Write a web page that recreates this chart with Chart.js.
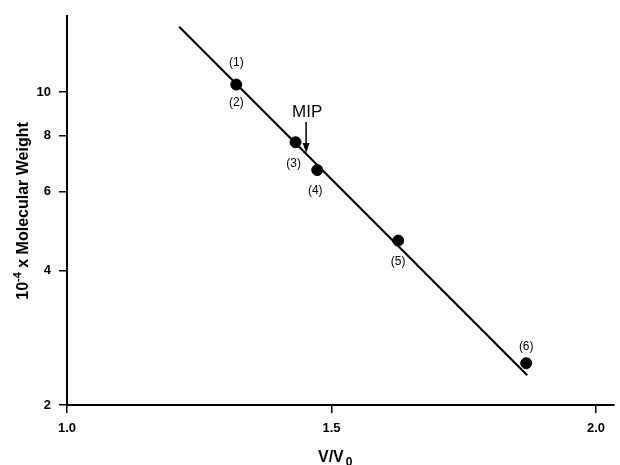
<!DOCTYPE html>
<html><head><meta charset="utf-8">
<script src="https://cdn.jsdelivr.net/npm/chart.js@4.4.1/dist/chart.umd.min.js"></script>
<style>html,body{margin:0;padding:0;background:#fff}#wrap{width:620px;height:465px}</style>
</head><body><div id="wrap"><canvas id="c" width="620" height="465"></canvas></div>
<script>
// ---- data ----
const vRatio    = [1.320, 1.432, 1.473, 1.626, 1.868];   // V/V0 of the standards
const molWeight = [10.4, 7.73, 6.70, 4.66, 2.48];        // 10^-4 x MW
const pointTags = [['(1)', '(2)'], ['(3)'], ['(4)'], ['(5)'], ['(6)']];
const fitLineX  = [1.212, 1.870];
const fitLineY  = [14.0, 2.33];
const mipLabel  = 'MIP';
const mipX      = 1.452;
const xTicks    = [1.0, 1.5, 2.0];
const yTicks    = [2, 4, 6, 8, 10];
const xTitle    = ['V/V', '0'];
const yTitle    = ['10', '-4', ' x Molecular Weight'];

// ---- styling (offsets of the tag labels, in px) ----
const tagOffsets = [[[0, -22], [0, 18]], [[-2, 21]], [[-2, 21]], [[0, 21]], [[0, -17]]];
const FONT = 'Liberation Sans, Arial, Helvetica, sans-serif';

const annot = {
  id: 'annot',
  afterDatasetsDraw(chart) {
    const ctx = chart.ctx;
    const xs = chart.scales.x;
    const pts = chart.getDatasetMeta(0).data;
    ctx.save();
    ctx.fillStyle = '#000';
    ctx.font = '12px ' + FONT;
    ctx.textAlign = 'center';
    ctx.textBaseline = 'middle';
    pts.forEach((p, i) => {
      pointTags[i].forEach((t, j) => {
        const o = tagOffsets[i][j];
        ctx.fillText(t, p.x + o[0], p.y + o[1]);
      });
    });
    // MIP arrow pointing to the fitted line
    const ln = chart.getDatasetMeta(1).data;
    const px = xs.getPixelForValue(mipX);
    const f = (px - ln[0].x) / (ln[1].x - ln[0].x);
    const tipY = ln[0].y + f * (ln[1].y - ln[0].y) - 1;
    ctx.strokeStyle = '#000';
    ctx.lineWidth = 1.5;
    ctx.beginPath();
    ctx.moveTo(px, tipY - 31);
    ctx.lineTo(px, tipY - 8);
    ctx.stroke();
    ctx.beginPath();
    ctx.moveTo(px - 3.5, tipY - 10);
    ctx.lineTo(px + 3.5, tipY - 10);
    ctx.lineTo(px, tipY);
    ctx.closePath();
    ctx.fill();
    ctx.font = '17px ' + FONT;
    ctx.textBaseline = 'alphabetic';
    ctx.fillText(mipLabel, px + 1, tipY - 36);
    ctx.restore();
  },
  afterDraw(chart) {
    const ctx = chart.ctx;
    const a = chart.chartArea;
    ctx.save();
    ctx.fillStyle = '#000';
    // x title
    ctx.textBaseline = 'alphabetic';
    ctx.textAlign = 'left';
    ctx.font = 'bold 16px ' + FONT;
    const xt0 = a.left + 251;
    ctx.fillText(xTitle[0], xt0, 461.5);
    const w0 = ctx.measureText(xTitle[0]).width;
    ctx.font = 'bold 12px ' + FONT;
    ctx.fillText(xTitle[1], xt0 + w0 + 2, 466);
    // y title (rotated)
    ctx.translate(22, 211);
    ctx.rotate(-Math.PI / 2);
    ctx.font = 'bold 16px ' + FONT;
    const wa = ctx.measureText(yTitle[0]).width;
    const wc = ctx.measureText(yTitle[2]).width;
    ctx.font = 'bold 11px ' + FONT;
    const wb = ctx.measureText(yTitle[1]).width;
    let x = -(wa + wb + wc) / 2;
    ctx.font = 'bold 16px ' + FONT;
    ctx.fillText(yTitle[0], x, 6);
    x += wa;
    ctx.font = 'bold 11px ' + FONT;
    ctx.fillText(yTitle[1], x, -1);
    x += wb;
    ctx.font = 'bold 16px ' + FONT;
    ctx.fillText(yTitle[2], x, 6);
    ctx.restore();
  }
};

new Chart(document.getElementById('c'), {
  data: {
    datasets: [
      {
        type: 'scatter',
        data: vRatio.map((v, i) => ({ x: v, y: molWeight[i] })),
        backgroundColor: '#000',
        borderColor: '#000',
        pointRadius: 5.5,
        pointHoverRadius: 5.5
      },
      {
        type: 'line',
        data: fitLineX.map((v, i) => ({ x: v, y: fitLineY[i] })),
        borderColor: '#000',
        borderWidth: 2,
        pointRadius: 0,
        fill: false
      }
    ]
  },
  options: {
    responsive: false,
    animation: false,
    devicePixelRatio: 1,
    layout: { padding: { top: 16, right: 0, left: 0, bottom: 0 } },
    plugins: { legend: { display: false }, tooltip: { enabled: false } },
    scales: {
      x: {
        type: 'linear',
        min: 1.0,
        max: 2.033,
        afterBuildTicks: s => { s.ticks = xTicks.map(v => ({ value: v })); },
        afterFit: s => { s.height = 60; },
        ticks: {
          callback: v => Number(v).toFixed(1),
          color: '#000',
          padding: 8,
          maxRotation: 0,
          font: { family: FONT, size: 13, weight: 'bold' }
        },
        grid: { drawOnChartArea: false, drawTicks: true, tickLength: 8, color: '#000', lineWidth: 1.5 },
        border: { color: '#000', width: 2 }
      },
      y: {
        type: 'logarithmic',
        min: 2,
        max: 14.8,
        afterBuildTicks: s => { s.ticks = yTicks.map(v => ({ value: v })); },
        afterFit: s => { s.width = 67; },
        ticks: {
          callback: v => String(v),
          color: '#000',
          padding: 8,
          font: { family: FONT, size: 13, weight: 'bold' }
        },
        grid: { drawOnChartArea: false, drawTicks: true, tickLength: 8, color: '#000', lineWidth: 1.5 },
        border: { color: '#000', width: 2 }
      }
    }
  },
  plugins: [annot]
});
</script>
</body></html>
